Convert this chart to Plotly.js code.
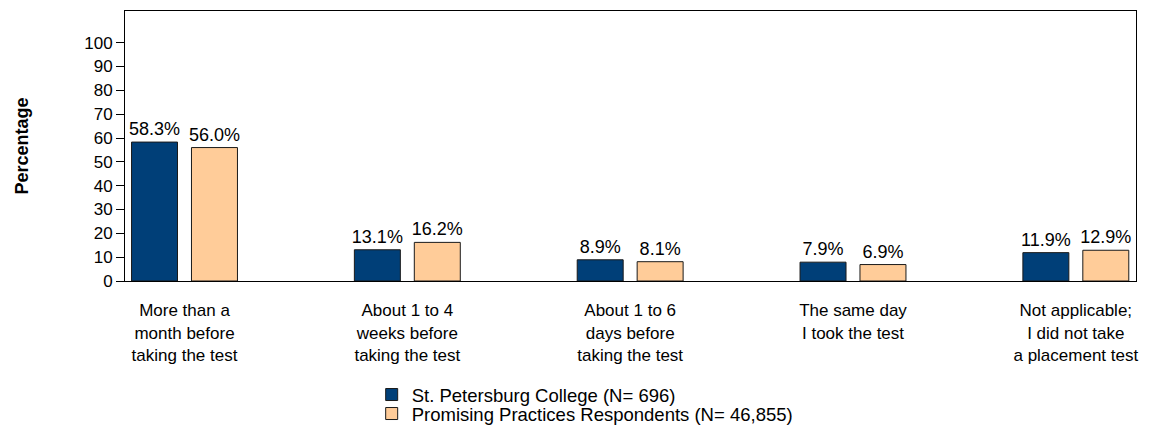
<!DOCTYPE html>
<html>
<head>
<meta charset="utf-8">
<script src="https://cdn.plot.ly/plotly-3.0.1.min.js"></script>
<style>html,body{margin:0;padding:0;background:#fff;}#chart{width:1149px;height:428px;}</style>
</head>
<body>
<div id="chart"></div>
<script>
const categories = [
  "More than a<br>month before<br>taking the test",
  "About 1 to 4<br>weeks before<br>taking the test",
  "About 1 to 6<br>days before<br>taking the test",
  "The same day<br>I took the test",
  "Not applicable;<br>I did not take<br>a placement test"
];
const seriesNames = [
  "St. Petersburg College (N= 696)",
  "Promising Practices Respondents (N= 46,855)"
];
const collegeValues = [58.3, 13.1, 8.9, 7.9, 11.9];
const peerValues = [56.0, 16.2, 8.1, 6.9, 12.9];
const yTickValues = [0, 10, 20, 30, 40, 50, 60, 70, 80, 90, 100];

const FONT = "Liberation Sans, Arial, Helvetica, sans-serif";
const xIdx = categories.map((c, i) => i);

function barTrace(name, values, color, legendId) {
  return {
    type: "bar",
    name: name,
    legend: legendId,
    x: xIdx,
    y: values,
    marker: {color: color, line: {color: "#1a1a1a", width: 1}},
    text: values.map(v => v.toFixed(1) + "%"),
    textposition: "outside",
    constraintext: "none",
    cliponaxis: false,
    textfont: {family: FONT, size: 18, color: "#000"},
    hoverinfo: "skip"
  };
}

const data = [
  barTrace(seriesNames[0], collegeValues, "#003F78", "legend"),
  barTrace(seriesNames[1], peerValues, "#FFCC99", "legend2")
];

function legendBox(yPos) {
  return {
    x: 0.244, xanchor: "left",
    y: yPos, yanchor: "middle",
    orientation: "v",
    font: {family: FONT, size: 18.5, color: "#000"},
    bgcolor: "rgba(0,0,0,0)"
  };
}

const layout = {
  width: 1149,
  height: 428,
  margin: {l: 125, r: 13, t: 11, b: 147, autoexpand: false},
  paper_bgcolor: "#fff",
  plot_bgcolor: "#fff",
  font: {family: FONT, color: "#000"},
  barmode: "group",
  bargap: 0.462,
  bargroupgap: 0.233,
  showlegend: true,
  legend: legendBox(-0.4222),
  legend2: legendBox(-0.4926),
  xaxis: {
    type: "linear",
    range: [-0.267, 4.27],
    tickmode: "array",
    tickvals: xIdx,
    ticktext: categories,
    ticks: "",
    ticklabelstandoff: 14,
    tickfont: {family: FONT, size: 17, color: "#000"},
    showgrid: false,
    zeroline: false,
    showline: true,
    linecolor: "#000",
    linewidth: 1,
    mirror: true,
    automargin: false,
    fixedrange: true
  },
  yaxis: {
    range: [0, 113.3],
    tickmode: "array",
    tickvals: yTickValues,
    ticks: "outside",
    ticklen: 8,
    tickcolor: "#000",
    tickfont: {family: FONT, size: 17, color: "#000"},
    showgrid: false,
    zeroline: false,
    showline: true,
    linecolor: "#000",
    linewidth: 1,
    mirror: true,
    automargin: false,
    title: {text: "<b>Percentage</b>", font: {family: FONT, size: 18, color: "#000"}, standoff: 50},
    fixedrange: true
  }
};

Plotly.newPlot("chart", data, layout, {displayModeBar: false, staticPlot: true});
</script>
</body>
</html>
